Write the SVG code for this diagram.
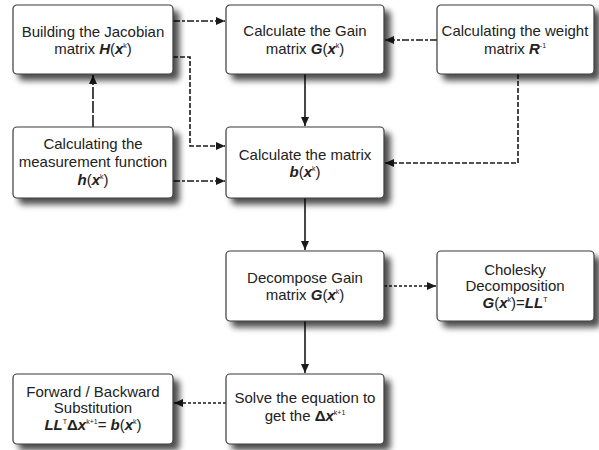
<svg xmlns="http://www.w3.org/2000/svg" width="599" height="450" viewBox="0 0 599 450">
<defs>
<filter id="sh" x="-10%" y="-10%" width="130%" height="140%">
<feGaussianBlur in="SourceAlpha" stdDeviation="3"/>
<feOffset dx="6" dy="6" result="b"/>
<feComponentTransfer><feFuncA type="linear" slope="0.7"/></feComponentTransfer>
<feMerge><feMergeNode/><feMergeNode in="SourceGraphic"/></feMerge>
</filter>
<marker id="ah" markerUnits="userSpaceOnUse" markerWidth="10" markerHeight="8" refX="9" refY="4" orient="auto">
<path d="M0,0 L9,4 L0,8 Z" fill="#1a1a1a"/>
</marker>
</defs>
<style>
.box{fill:#fff;stroke:#3a3a3a;stroke-width:1.2;filter:url(#sh)}
text{font-family:"Liberation Sans",Arial,sans-serif;font-size:15px;fill:#222;text-anchor:middle}
.m{font-weight:bold;font-style:italic}
.s{font-size:7px}
.c{fill:none;stroke:#1a1a1a;stroke-width:1.6;marker-end:url(#ah)}
.dd{stroke-dasharray:7 2 3 2}
.da{stroke-dasharray:5 2}
.lg{stroke-dasharray:12 2}
.dt{stroke-dasharray:3 2}
</style>
<g id="connectors">
<path class="c lg" d="M93,127 V75"/>
<path class="c dd" d="M173,21 H225"/>
<path class="c da" d="M173,57 H190 V146 H225"/>
<path class="c dd" d="M173,181 H225"/>
<path class="c dd" d="M437,40 H385"/>
<path class="c da" d="M518,74 V163 H385"/>
<path class="c" d="M305,74 V126"/>
<path class="c" d="M305,198 V250"/>
<path class="c dt" d="M384,286 H436"/>
<path class="c" d="M305,321 V373"/>
<path class="c dt" d="M226,403 H174"/>
</g>
<g id="jacobian">
<rect class="box" x="13" y="5" width="160" height="69" rx="4"/>
<text x="93" y="37">Building the Jacobian</text>
<text x="93" y="54">matrix <tspan class="m">H</tspan>(<tspan class="m">x</tspan><tspan class="s" dy="-6">k</tspan><tspan dy="6">)</tspan></text>
</g>
<g id="gain">
<rect class="box" x="226" y="5" width="158" height="69" rx="4"/>
<text x="305" y="36">Calculate the Gain</text>
<text x="305" y="54">matrix <tspan class="m">G</tspan>(<tspan class="m">x</tspan><tspan class="s" dy="-6">k</tspan><tspan dy="6">)</tspan></text>
</g>
<g id="weight">
<rect class="box" x="437" y="5" width="157" height="69" rx="4"/>
<text x="515" y="36">Calculating the weight</text>
<text x="515" y="54">matrix <tspan class="m">R</tspan><tspan class="s" dy="-6">-1</tspan></text>
</g>
<g id="measurement">
<rect class="box" x="13" y="127" width="160" height="71" rx="4"/>
<text x="93" y="149">Calculating the</text>
<text x="93" y="167">measurement function</text>
<text x="93" y="185"><tspan class="m">h</tspan>(<tspan class="m">x</tspan><tspan class="s" dy="-6">k</tspan><tspan dy="6">)</tspan></text>
</g>
<g id="bmatrix">
<rect class="box" x="226" y="127" width="158" height="71" rx="4"/>
<text x="305" y="160">Calculate the matrix</text>
<text x="305" y="177"><tspan class="m">b</tspan>(<tspan class="m">x</tspan><tspan class="s" dy="-6">k</tspan><tspan dy="6">)</tspan></text>
</g>
<g id="decompose">
<rect class="box" x="226" y="251" width="158" height="70" rx="4"/>
<text x="305" y="283">Decompose Gain</text>
<text x="305" y="300">matrix <tspan class="m">G</tspan>(<tspan class="m">x</tspan><tspan class="s" dy="-6">k</tspan><tspan dy="6">)</tspan></text>
</g>
<g id="cholesky">
<rect class="box" x="437" y="251" width="157" height="70" rx="4"/>
<text x="515" y="275">Cholesky</text>
<text x="515" y="291">Decomposition</text>
<text x="515" y="308"><tspan class="m">G</tspan>(<tspan class="m">x</tspan><tspan class="s" dy="-6">k</tspan><tspan dy="6">)=</tspan><tspan class="m">LL</tspan><tspan class="s" dy="-6">T</tspan></text>
</g>
<g id="forward">
<rect class="box" x="13" y="374" width="160" height="70" rx="4"/>
<text x="93" y="397">Forward / Backward</text>
<text x="93" y="413">Substitution</text>
<text x="93" y="430"><tspan class="m">LL</tspan><tspan class="s" dy="-6">T</tspan><tspan dy="6" font-weight="bold">Δ</tspan><tspan class="m">x</tspan><tspan class="s" dy="-6">k+1</tspan><tspan dy="6">= </tspan><tspan class="m">b</tspan>(<tspan class="m">x</tspan><tspan class="s" dy="-6">k</tspan><tspan dy="6">)</tspan></text>
</g>
<g id="solve">
<rect class="box" x="226" y="374" width="158" height="70" rx="4"/>
<text x="305" y="403">Solve the equation to</text>
<text x="305" y="421">get the <tspan font-weight="bold">Δ</tspan><tspan class="m">x</tspan><tspan class="s" dy="-6">k+1</tspan></text>
</g>
</svg>
